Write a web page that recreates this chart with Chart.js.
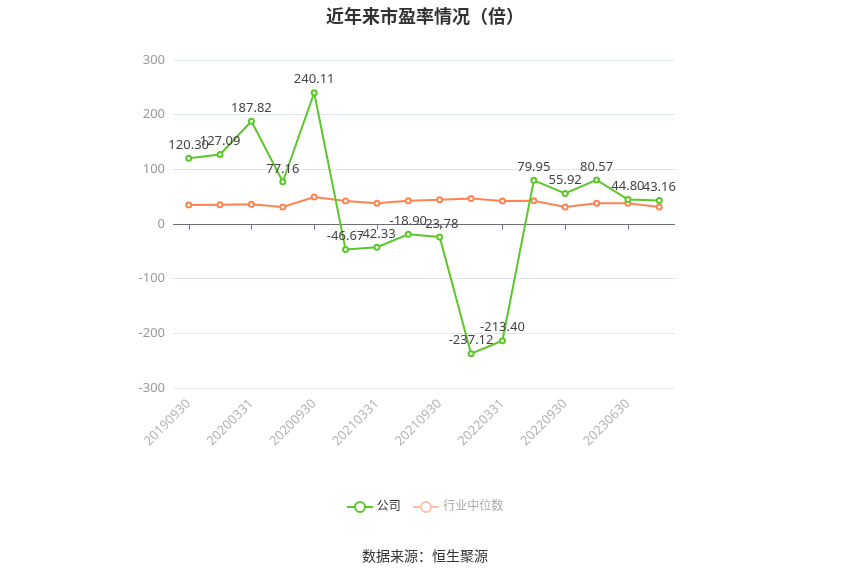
<!DOCTYPE html>
<html>
<head>
<meta charset="utf-8">
<script src="https://cdn.jsdelivr.net/npm/chart.js@4.4.0/dist/chart.umd.min.js"></script>
<style>
  body { margin:0; background:#fff; font-family:"Noto Sans CJK SC","Noto Sans",sans-serif; }
  #wrap { position:relative; width:850px; height:574px; }
  #title { position:absolute; top:2px; left:0; width:850px; text-align:center; font-size:18px; font-weight:bold; color:#333; }
  #legend { position:absolute; top:496px; left:0; width:850px; text-align:center; font-size:12px; color:#333; }
  #legend span.item { display:inline-block; margin:0 5px; }
  #legend svg { vertical-align:middle; margin-right:4px; }
  #source { position:absolute; top:545px; left:0; width:850px; text-align:center; font-size:14px; color:#333; }
</style>
</head>
<body>
<div id="wrap">
  <canvas id="Chart1" width="850" height="574"></canvas>
  <div id="title">近年来市盈率情况（倍）</div>
  <div id="legend">
    <span class="item"><svg width="26" height="14"><line x1="0" y1="7" x2="26" y2="7" stroke="#5cc72a" stroke-width="2"/><circle cx="13" cy="7" r="5" fill="#fff" stroke="#5cc72a" stroke-width="2"/></svg>公司</span>
    <span class="item" style="color:#aaa"><svg width="26" height="14"><line x1="0" y1="7" x2="26" y2="7" stroke="#fcc1a8" stroke-width="2"/><circle cx="13" cy="7" r="5" fill="#fff" stroke="#fcc1a8" stroke-width="2"/></svg>行业中位数</span>
  </div>
  <div id="source">数据来源：恒生聚源</div>
</div>
<script>
let Fechas = ["20190930","20191231","20200331","20200630","20200930","20201231","20210331","20210630",
              "20210930","20211231","20220331","20220630","20220930","20230331","20230630","20230930"]
let Empresa = [120.30,127.09,187.82,77.16,240.11,-46.67,-42.33,-18.90,-23.78,-237.12,-213.40,79.95,55.92,80.57,44.80,43.16]
let Mediana = [34.7,35.3,36.0,31.0,49.4,42.0,38.0,42.6,44.5,46.5,42.0,42.6,31.0,37.8,38.0,31.0]
let Ticks_Y = [-300,-200,-100,0,100,200,300]

// etiquetas encima de cada punto de la empresa
const etiquetas = {
    id: "etiquetas",
    afterDatasetsDraw(chart){
        const ctx = chart.ctx
        const meta = chart.getDatasetMeta(0)
        ctx.save()
        ctx.font = "13px 'Noto Sans', sans-serif"
        ctx.fillStyle = "#444"
        ctx.textAlign = "center"
        ctx.textBaseline = "middle"
        meta.data.forEach((p, i) => {
            ctx.fillText(Empresa[i].toFixed(2), p.x, p.y - 13)
        })
        ctx.restore()
    }
}

// linea del cero y marcas del eje x
const lineaCero = {
    id: "lineaCero",
    beforeDatasetsDraw(chart){
        const ctx = chart.ctx
        const x = chart.scales.x, y = chart.scales.y
        const y0 = Math.round(y.getPixelForValue(0)) + 0.5
        ctx.save()
        ctx.strokeStyle = "#6E7079"
        ctx.lineWidth = 1
        ctx.beginPath()
        ctx.moveTo(chart.chartArea.left, y0)
        ctx.lineTo(chart.chartArea.right, y0)
        Fechas.forEach((f, i) => {
            if(i % 2 === 0){
                const px = Math.round(x.getPixelForValue(i)) + 0.5
                ctx.moveTo(px, y0)
                ctx.lineTo(px, y0 + 5)
            }
        })
        ctx.stroke()
        ctx.restore()
    }
}

new Chart(document.getElementById("Chart1"), {
    type: 'line',
    data: {
        labels: Fechas,
        datasets: [{
            label: "公司",
            data: Empresa,
            borderColor: "#5cc72a",
            backgroundColor: "#fff",
            borderWidth: 2,
            pointRadius: 2.5,
            pointBorderWidth: 2,
            pointBackgroundColor: "#fff",
            tension: 0
        },{
            label: "行业中位数",
            data: Mediana,
            borderColor: "#fd8452",
            backgroundColor: "#fff",
            borderWidth: 2,
            pointRadius: 2.5,
            pointBorderWidth: 2,
            pointBackgroundColor: "#fff",
            tension: 0
        }]
    },
    options: {
        responsive: false,
        animation: false,
        layout: { padding: { top: 60, right: 175, left: 0, bottom: 0 } },
        plugins: {
            legend: { display: false },
            tooltip: { enabled: false },
            title: { display: false }
        },
        scales: {
            x: {
                offset: true,
                afterFit: (s) => { s.height = 186 },
                grid: { display: false },
                border: { display: false },
                ticks: {
                    autoSkip: false,
                    maxRotation: 45,
                    minRotation: 45,
                    color: "#b5b5b5",
                    font: { size: 13, family: "'Noto Sans', sans-serif" },
                    padding: 0,
                    callback: function(v, i){ return i % 2 === 0 ? Fechas[i] : "" }
                }
            },
            y: {
                min: -300,
                max: 300,
                afterFit: (s) => { s.width = 173 },
                afterBuildTicks: (s) => { s.ticks = Ticks_Y.map(v => ({ value: v })) },
                grid: { color: "#E0E6F1", drawTicks: false },
                border: { display: false },
                ticks: {
                    color: "#999",
                    padding: 8,
                    font: { size: 13, family: "'Noto Sans', sans-serif" }
                }
            }
        }
    },
    plugins: [ lineaCero, etiquetas ]
});
</script>
</body>
</html>
